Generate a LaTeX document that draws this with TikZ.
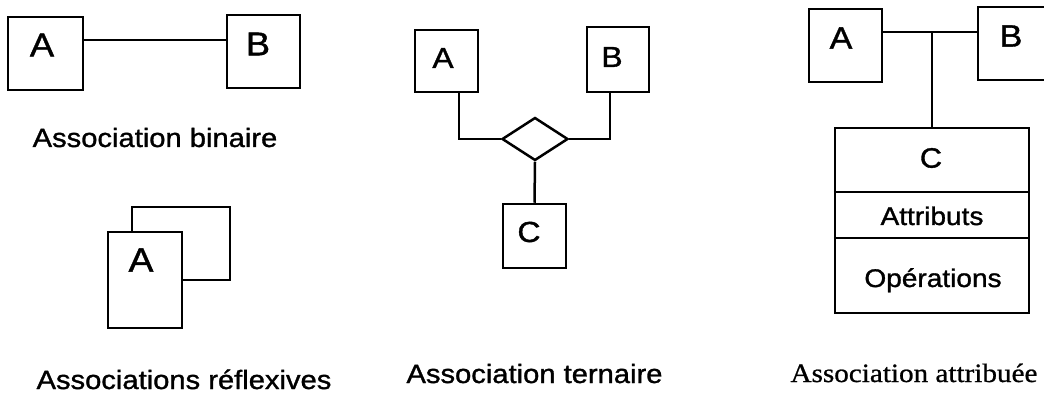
\documentclass[tikz,border=0pt]{standalone}
\usepackage{fontspec}
\setmainfont{Liberation Sans}[FakeStretch=1.1, FakeBold=1.2]
\newfontfamily\timesfont{Liberation Serif}[FakeStretch=1.1, FakeBold=0.8]
\usetikzlibrary{shapes.geometric}

\begin{document}
\begin{tikzpicture}
  [ x=1pt, y=-1pt, line width=2.5pt
  , ent/.style 2 args={draw=black, fill=white, shape=rectangle, inner sep=0pt,
                       minimum width=#1, minimum height=#2}
  , rel/.style={draw=black, fill=white, shape=diamond, inner sep=0pt,
                minimum width=66, minimum height=43}
  , letter/.style={inner sep=0pt, font=\fontsize{#1}{#1}\selectfont}
  , caption/.style={anchor=base, inner sep=0pt, font=\fontsize{26.5}{26.5}\selectfont}
  ]

  \clip (0,0) rectangle (1044,395);

  % binaire
  \node[ent={75}{73}] (binA) at (45.5,53.5) {};
  \node[ent={73}{73}] (binB) at (263.5,51.5) {};
  \node[letter=33] (binAt) at (42,45) {A};
  \node[letter=33] (binBt) at (258,44) {B};
  \coordinate (binY) at (155,40);
  \draw (binA.east |- binY) -- (binB.west |- binY);
  \node[caption] (binCap) at (155,147) {Association binaire};

  % reflexive
  \node[ent={98}{73}] (refB) at (181,243.5) {};
  \node[ent={74}{96}] (refA) at (145,280) {};
  \node[letter=34] (refAt) at (141,260) {A};
  \node[caption] (refCap) at (184,389) {Associations réflexives};

  % ternaire
  \node[ent={63}{62}] (terA) at (446.5,61) {};
  \node[ent={62}{65}] (terB) at (618,59.5) {};
  \node[rel]          (terD) at (535,139) {};
  \node[ent={63}{64}] (terC) at (534.5,236) {};
  \node[letter=29] (terAt) at (443,58) {A};
  \node[letter=29] (terBt) at (612,57) {B};
  \node[letter=29] (terCt) at (529,232) {C};
  \coordinate (terAx) at (459,139);
  \coordinate (terBx) at (610,139);
  \draw (terA.south -| terAx) |- (terD.west);
  \draw (terB.south -| terBx) |- (terD.east);
  \draw (terD.south) -- (terC.north);
  \node[caption] (terCap) at (534.5,383) {Association ternaire};

  % attribuee
  \node[ent={73}{73}]   (attA) at (845.5,45.5) {};
  \node[ent={72}{73}]   (attB) at (1014,43.5) {};
  \node[ent={194}{185}] (attC) at (932,220.5) {};
  \node[letter=31] (attAt) at (841,38) {A};
  \node[letter=31] (attBt) at (1011,36) {B};
  \node[letter=28] (attCt) at (931,158) {C};
  \coordinate (attY)  at (932,32);
  \coordinate (attS1) at (932,192);
  \coordinate (attS2) at (932,238);
  \draw (attA.east |- attY) -- (attB.west |- attY);
  \draw (attY) -- (attC.north);
  \draw (attC.west |- attS1) -- (attC.east |- attS1);
  \draw (attC.west |- attS2) -- (attC.east |- attS2);
  \node[caption, font=\fontsize{25.5}{25.5}\selectfont] (attAttr) at (932,225) {Attributs};
  \node[caption, font=\fontsize{25.5}{25.5}\selectfont] (attOps)  at (933,287) {Opérations};
  \node[caption, font=\fontsize{26.5}{26.5}\selectfont\timesfont] (attCap) at (914,382) {Association attribuée};

      %node {A} -- node {B}
      %node {A} + A
      %node {A} -- <> -- node {B}, node {C}
      %node {A} -- node {B}, node {C | Attributs | Opérations}

\end{tikzpicture}
\end{document}
